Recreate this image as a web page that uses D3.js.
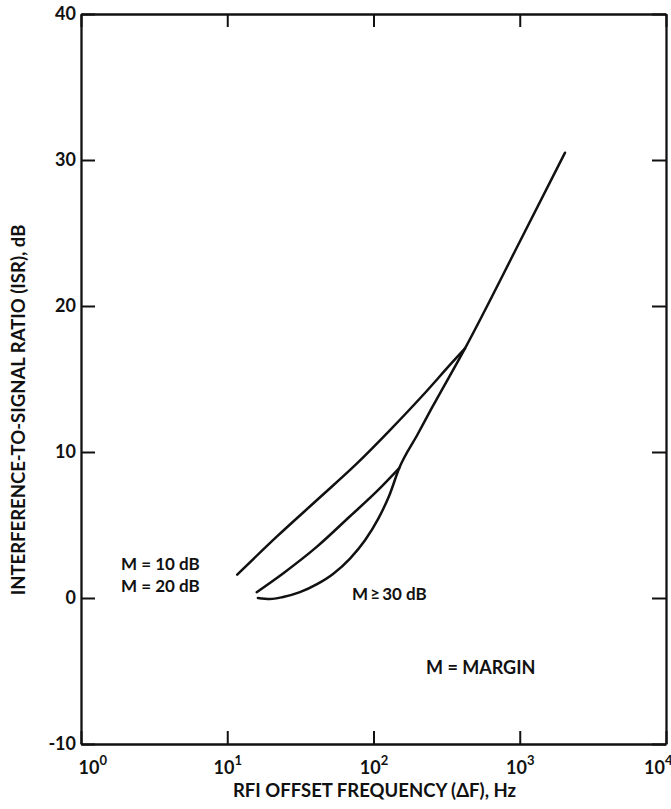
<!DOCTYPE html>
<html>
<head>
<meta charset="utf-8">
<script src="https://cdn.jsdelivr.net/npm/d3@7"></script>
<style>
  body { margin: 0; background: #fff; }
  text { font-family: Lato, "DejaVu Sans", sans-serif; font-weight: bold; fill: #111; }
</style>
</head>
<body>
<svg id="chart" width="671" height="809"></svg>
<script>
// values: [offset frequency Hz, ISR dB]
const curveM10 = [[11.7, 1.6], [21.8, 4.2], [43.1, 6.9], [76.8, 9.2], [129.7, 11.5],
    [213.6, 13.8], [342.6, 16.1], [422.4, 17.1]];
const curveM20 = [[15.9, 0.4], [24.2, 1.7], [40.9, 3.5], [69.1, 5.6], [105.2, 7.3], [150, 8.9]];
const curveM30 = [[16.2, 0.0], [19.6, -0.07], [24.1, 0.07], [31.4, 0.4], [41.1, 0.95], [52.9, 1.65],
    [69.1, 2.7], [87.5, 3.95], [107.4, 5.4], [128, 7.0], [150, 8.9], [200, 11.2], [250, 13.0],
    [422.4, 17.1], [1000, 24.4], [2039, 30.5]];

const xTicks = [1, 10, 100, 1000, 10000];
const yTicks = [-10, 0, 10, 20, 30, 40];
const xTitle = "RFI OFFSET FREQUENCY (\u0394F), Hz";
const yTitle = "INTERFERENCE-TO-SIGNAL RATIO (ISR), dB";

function draw() {
    const svg = d3.select("#chart"),
        left = 81, right = 666, top = 14, bottom = 744;

    const x = d3.scaleLog().domain([1, 10000]).range([left, right]);
    const y = d3.scaleLinear().domain([-10, 40]).range([bottom, top]);

    const line = d3.line()
        .x(d => x(d[0]))
        .y(d => y(d[1]))
        .curve(d3.curveMonotoneX);

    // frame with inward ticks
    const axL = svg.append("g").attr("transform", `translate(${left},0)`)
        .call(d3.axisLeft(y).tickValues(yTicks).tickSizeInner(-14).tickSizeOuter(0).tickPadding(5));
    const axR = svg.append("g").attr("transform", `translate(${right},0)`)
        .call(d3.axisRight(y).tickValues(yTicks).tickSizeInner(-14).tickSizeOuter(0).tickFormat(""));
    const axB = svg.append("g").attr("transform", `translate(0,${bottom})`)
        .call(d3.axisBottom(x).tickValues(xTicks).tickSizeInner(-13).tickSizeOuter(0).tickPadding(16));
    const axT = svg.append("g").attr("transform", `translate(0,${top})`)
        .call(d3.axisTop(x).tickValues(xTicks).tickSizeInner(-13).tickSizeOuter(0).tickFormat(""));

    [axL, axR, axB, axT].forEach(g => {
        g.select(".domain").attr("stroke", "#111").attr("stroke-width", 2.3);
        g.selectAll(".tick line").attr("stroke", "#111").attr("stroke-width", 2);
    });

    axL.selectAll(".tick text")
        .attr("font-size", 18)
        .attr("font-family", "Lato, sans-serif")
        .attr("font-weight", "bold")
        .attr("fill", "#111")
        .text(d => d < 0 ? "-" + Math.abs(d) : d);

    axB.selectAll(".tick text").each(function (d, i) {
        const t = d3.select(this)
            .attr("font-size", 18)
            .attr("font-family", "Lato, sans-serif")
            .attr("font-weight", "bold")
            .attr("fill", "#111")
            .attr("dy", "0.75em");
        if (i === 0) t.attr("text-anchor", "start").attr("x", -3);
        if (i === xTicks.length - 1) t.attr("text-anchor", "end").attr("x", 6);
        t.text("");
        t.append("tspan").text("10");
        t.append("tspan").attr("dy", -9).attr("font-size", 13).text(Math.round(Math.log10(d)));
    });

    svg.append("g")
        .selectAll("path")
        .data([curveM10, curveM20, curveM30])
        .join("path")
        .attr("d", line)
        .attr("fill", "none")
        .attr("stroke", "#111")
        .attr("stroke-width", 2.5)
        .attr("stroke-linecap", "round");

    // annotations
    svg.append("text").attr("x", 121).attr("y", 570).attr("font-size", 17).text("M = 10 dB");
    svg.append("text").attr("x", 121).attr("y", 592).attr("font-size", 17).text("M = 20 dB");
    svg.append("text").attr("x", 352).attr("y", 600).attr("font-size", 17).text("M\u2009\u2265\u200930 dB");
    svg.append("text").attr("x", 426).attr("y", 674).attr("font-size", 18).text("M = MARGIN");

    svg.append("text")
        .attr("x", (232 + 517) / 2)
        .attr("y", 797)
        .attr("text-anchor", "middle")
        .attr("font-size", 18.5)
        .text(xTitle);

    svg.append("text")
        .attr("transform", "translate(25,410) rotate(-90)")
        .attr("text-anchor", "middle")
        .attr("font-size", 18.5)
        .text(yTitle);
}

draw();
</script>
</body>
</html>
